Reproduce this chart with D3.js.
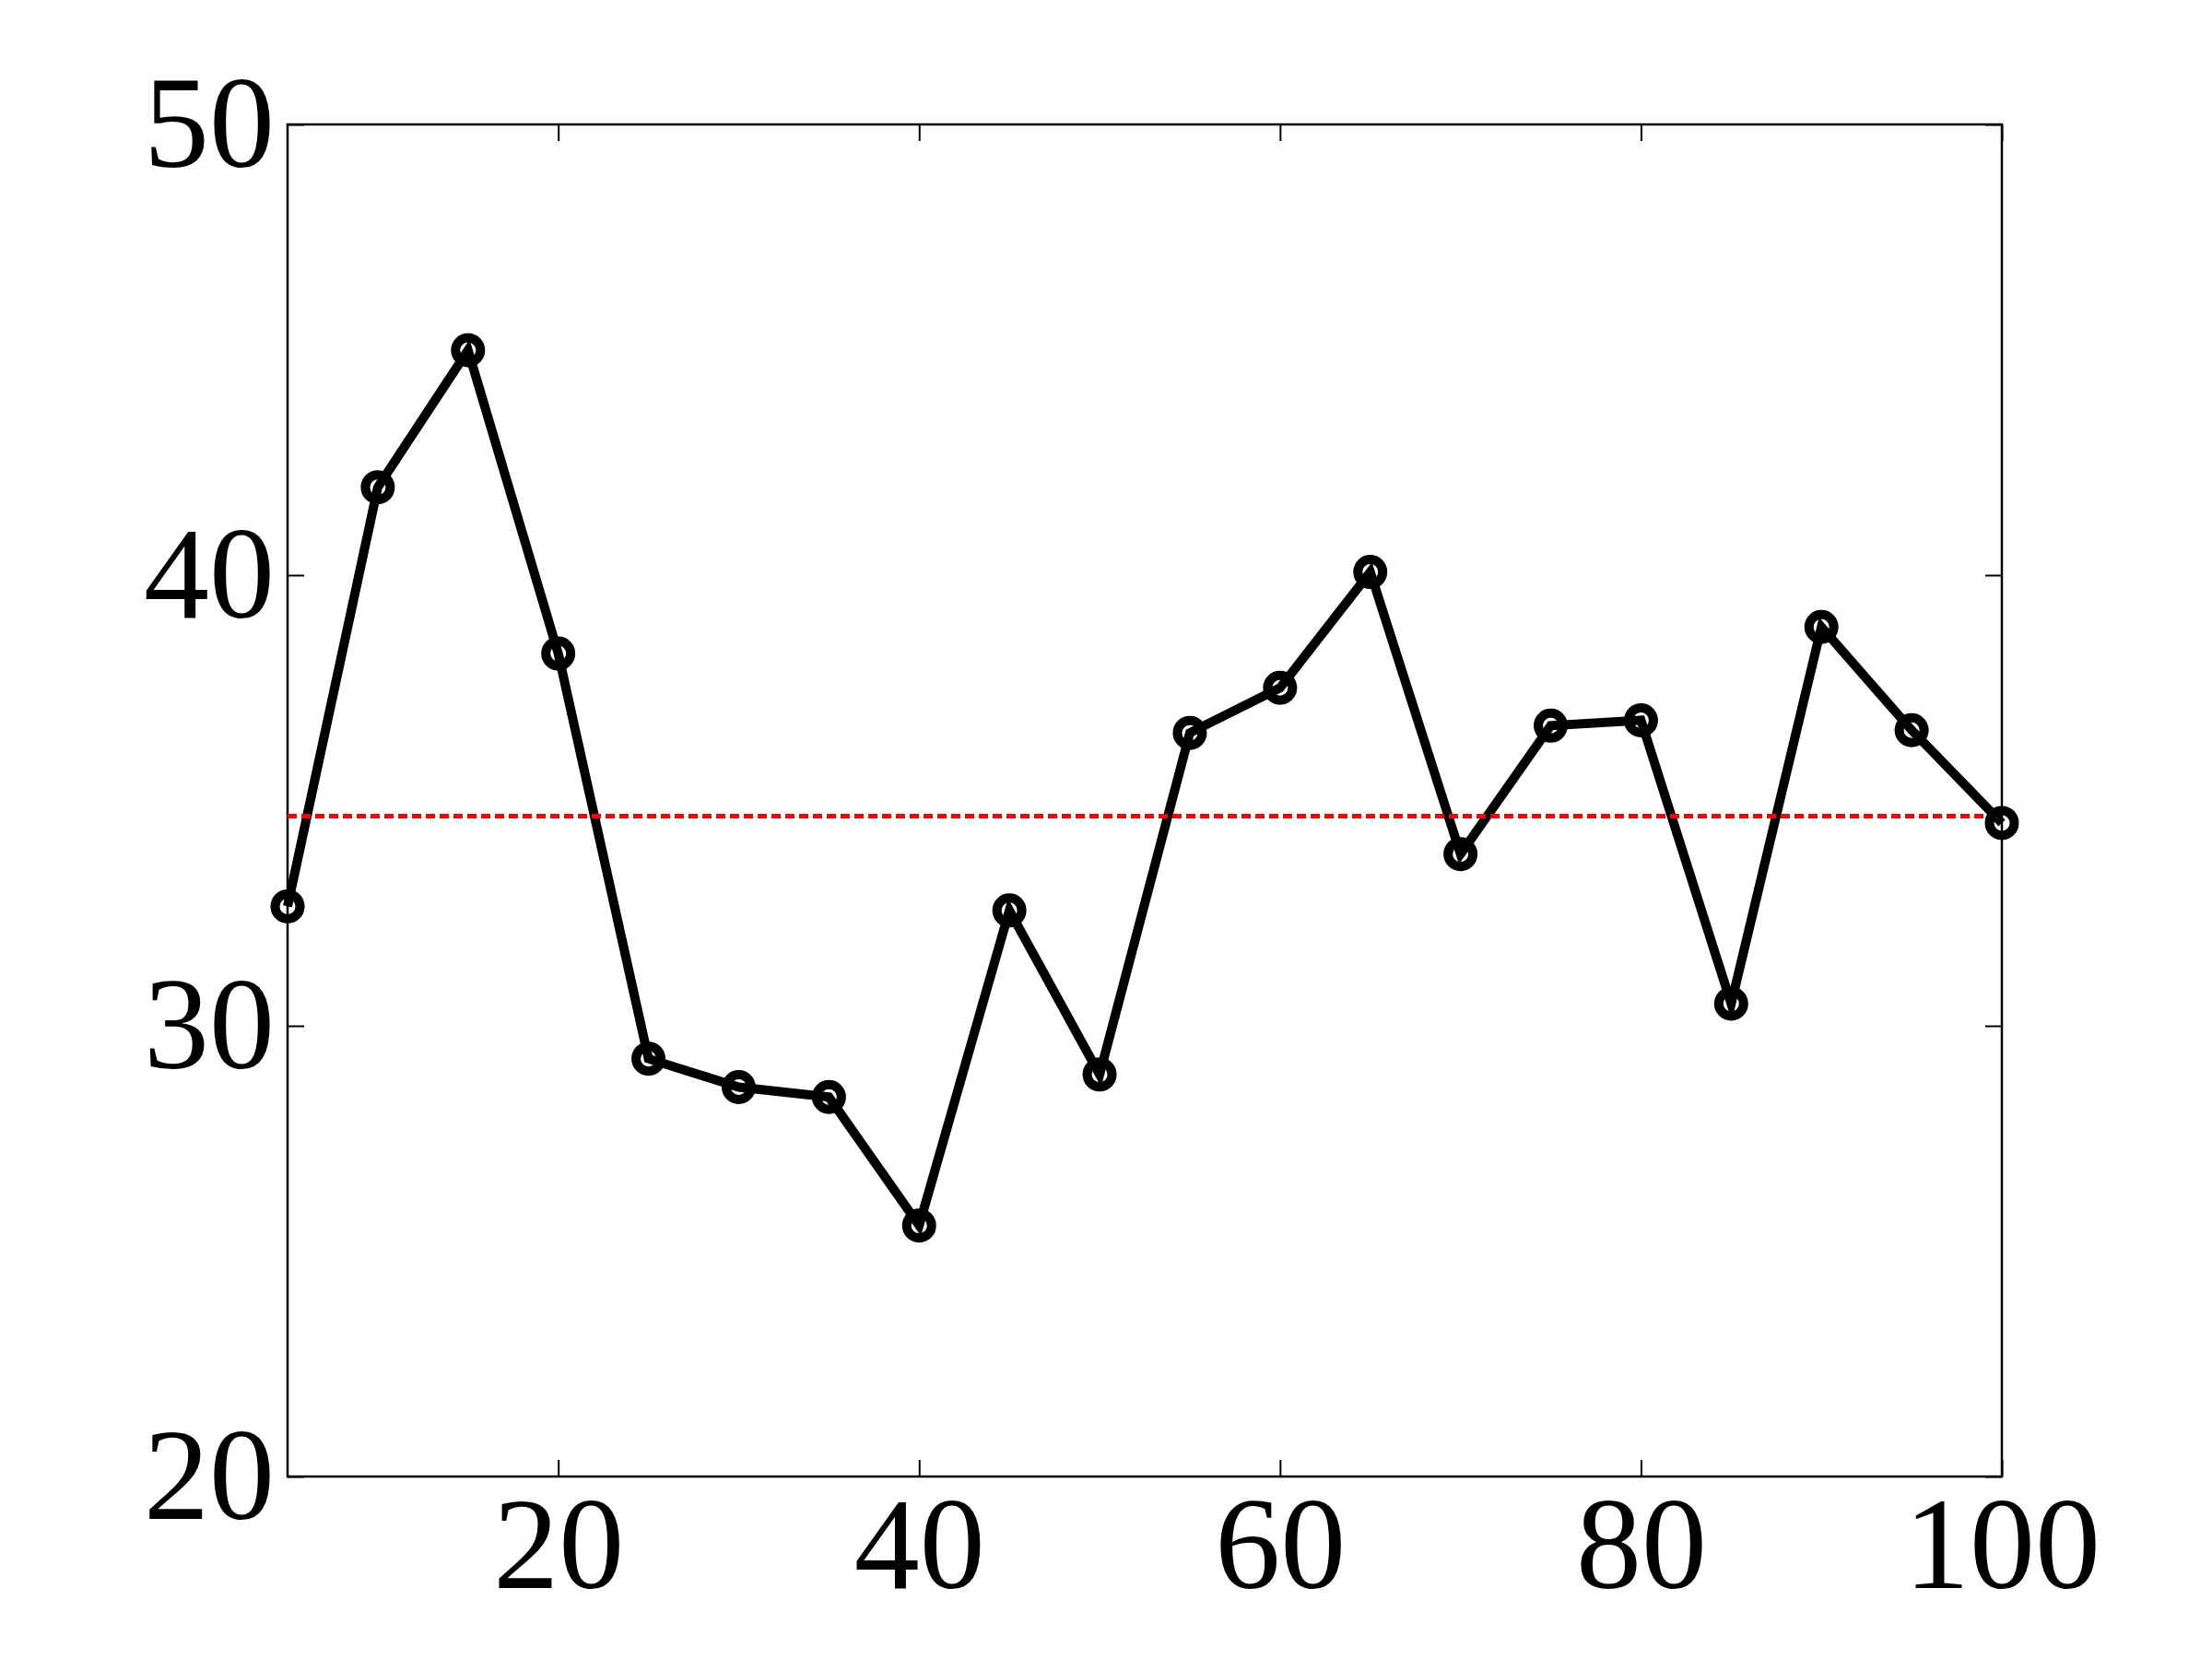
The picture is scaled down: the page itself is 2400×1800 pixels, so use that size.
<!DOCTYPE html>
<html>
<head>
<meta charset="utf-8">
<script src="https://cdn.jsdelivr.net/npm/d3@7"></script>
<style>
  html, body { margin: 0; padding: 0; background: #fff; }
  svg { display: block; }
</style>
</head>
<body>
<svg id="chart" width="2400" height="1800"></svg>
<script>
// ---- data ----
const xValues = [5, 10, 15, 20, 25, 30, 35, 40, 45, 50, 55, 60, 65, 70, 75, 80, 85, 90, 95, 100];
const yValues = [32.65, 41.95, 44.99, 38.26, 29.27, 28.64, 28.42, 25.57, 32.56, 28.92,
                 36.50, 37.50, 40.07, 33.81, 36.66, 36.78, 30.49, 38.85, 36.56, 34.50];
const meanValue = 34.65;
const xTicks = [20, 40, 60, 80, 100];
const yTicks = [20, 30, 40, 50];
const xDomain = [5, 100];
const yDomain = [20, 50];

(function () {
// ---- layout ----
const W = 2400, H = 1800;
const pLeft = 312, pTop = 135, pRight = 2172, pBottom = 1602;

const svg = d3.select("#chart");
svg.append("rect").attr("width", W).attr("height", H).attr("fill", "#fff");

const x = d3.scaleLinear().domain(xDomain).range([pLeft, pRight]);
const y = d3.scaleLinear().domain(yDomain).range([pBottom, pTop]);

const tickLen = 18;
const fontSize = 142;
const fontFam = "'Liberation Serif', 'DejaVu Serif', serif";

function styleAxis(g, showLabels) {
  g.attr("font-family", fontFam).attr("font-size", fontSize);
  g.select(".domain").remove();
  g.selectAll(".tick line").attr("stroke", "#000").attr("stroke-width", 2);
  g.selectAll(".tick text")
    .attr("fill", "#000")
    .style("font-family", fontFam)
    .style("font-size", fontSize + "px")
    .style("display", showLabels ? null : "none");
}

// bottom axis (labels)
const gx = svg.append("g").attr("transform", `translate(0,${pBottom})`)
  .call(d3.axisBottom(x).tickValues(xTicks).tickSizeInner(-tickLen).tickSizeOuter(0).tickPadding(19));
styleAxis(gx, true);
gx.selectAll(".tick text").attr("dy", "0.72em");

// top axis (ticks only)
const gxt = svg.append("g").attr("transform", `translate(0,${pTop})`)
  .call(d3.axisTop(x).tickValues(xTicks).tickSizeInner(-tickLen).tickSizeOuter(0));
styleAxis(gxt, false);

// left axis (labels)
const gy = svg.append("g").attr("transform", `translate(${pLeft},0)`)
  .call(d3.axisLeft(y).tickValues(yTicks).tickSizeInner(-tickLen).tickSizeOuter(0).tickPadding(14));
styleAxis(gy, true);
gy.selectAll(".tick text").attr("dy", "0.32em");

// right axis (ticks only)
const gyr = svg.append("g").attr("transform", `translate(${pRight},0)`)
  .call(d3.axisRight(y).tickValues(yTicks).tickSizeInner(-tickLen).tickSizeOuter(0));
styleAxis(gyr, false);

// frame
svg.append("rect")
  .attr("x", pLeft).attr("y", pTop)
  .attr("width", pRight - pLeft).attr("height", pBottom - pTop)
  .attr("fill", "none").attr("stroke", "#000").attr("stroke-width", 2.5);

// data line
const pts = xValues.map((v, i) => [v, yValues[i]]);
svg.append("path")
  .datum(pts)
  .attr("fill", "none")
  .attr("stroke", "#000")
  .attr("stroke-width", 10)
  .attr("stroke-linejoin", "miter")
  .attr("d", d3.line().x(d => x(d[0])).y(d => y(d[1])));

// mean line
svg.append("line")
  .attr("x1", x(xDomain[0])).attr("x2", x(xDomain[1]))
  .attr("y1", y(meanValue)).attr("y2", y(meanValue))
  .attr("stroke", "#ff0000")
  .attr("stroke-width", 5)
  .attr("stroke-dasharray", "10,5");

// markers
svg.append("g").selectAll("circle")
  .data(pts)
  .join("circle")
  .attr("cx", d => x(d[0]))
  .attr("cy", d => y(d[1]))
  .attr("r", 13.5)
  .attr("fill", "none")
  .attr("stroke", "#000")
  .attr("stroke-width", 10);
})();
</script>
</body>
</html>
